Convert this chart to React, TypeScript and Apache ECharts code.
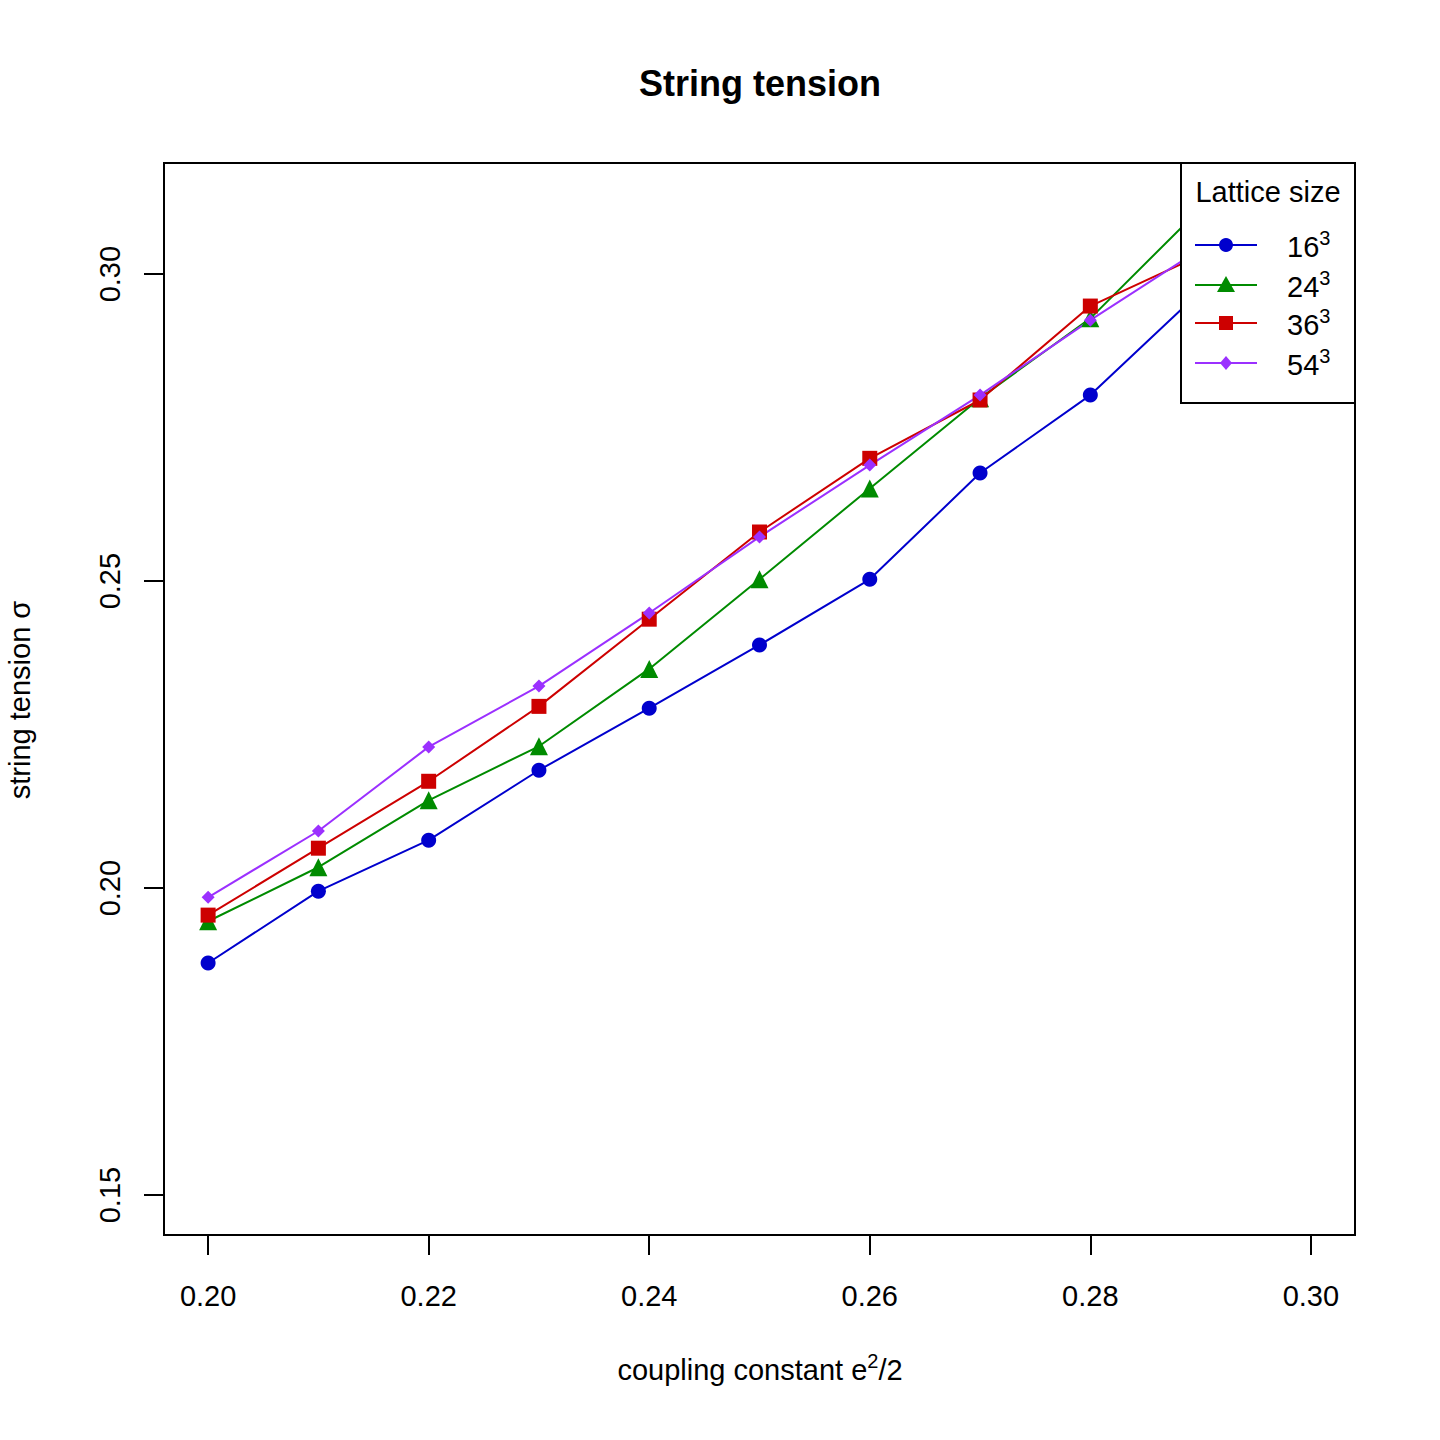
import React, { useEffect, useRef } from "react";
import * as echarts from "echarts";

const xValues = [0.2, 0.21, 0.22, 0.23, 0.24, 0.25, 0.26, 0.27, 0.28, 0.29];
const s16 = [0.1878, 0.1995, 0.2078, 0.2192, 0.2293, 0.2396, 0.2503, 0.2676, 0.2803, 0.2972];
const s24 = [0.1946, 0.2034, 0.2143, 0.2231, 0.2357, 0.2503, 0.2651, 0.2798, 0.2928, 0.3107];
const s36 = [0.1956, 0.2065, 0.2174, 0.2296, 0.2438, 0.258, 0.27, 0.2795, 0.2948, 0.3031];
const s54 = [0.1985, 0.2093, 0.223, 0.2329, 0.2448, 0.2572, 0.2689, 0.2803, 0.2925, 0.3041];
const xTicks = [0.2, 0.22, 0.24, 0.26, 0.28, 0.3];
const yTicks = [0.15, 0.2, 0.25, 0.3];
const names = ["16", "24", "36", "54"];
const colors = ["#0000CD", "#008B00", "#CD0000", "#9B30FF"];
const symbols = ["circle", "triangle", "rect", "diamond"];
const sizes = [15, 18, 15, 13];

const FONT = "Liberation Sans, Arial, sans-serif";

export default function App() {
  const ref = useRef<HTMLDivElement>(null);
  useEffect(() => {
    const chart = echarts.init(ref.current!, null, { renderer: "svg" });
    const all = [s16, s24, s36, s54];
    const series = all.map((s, i) => ({
      type: "line",
      name: names[i],
      data: s.map((v, j) => [xValues[j], v]),
      symbol: symbols[i],
      symbolSize: sizes[i],
      lineStyle: { color: colors[i], width: 2 },
      itemStyle: { color: colors[i] },
      clip: true,
    }));
    const legendItems: any[] = [];
    const ly = [245, 285, 323, 363];
    names.forEach((n, i) => {
      legendItems.push({ type: "line", shape: { x1: 1195, y1: ly[i], x2: 1257, y2: ly[i] }, style: { stroke: colors[i], lineWidth: 2 }, z: 101 });
      const c = colors[i];
      let sym: any;
      if (i === 0) sym = { type: "circle", shape: { cx: 1226, cy: ly[i], r: 7 }, style: { fill: c } };
      else if (i === 1) sym = { type: "polygon", shape: { points: [[1226, ly[i] - 9], [1235, ly[i] + 7], [1217, ly[i] + 7]] }, style: { fill: c } };
      else if (i === 2) sym = { type: "rect", shape: { x: 1219, y: ly[i] - 7, width: 14, height: 14 }, style: { fill: c } };
      else sym = { type: "polygon", shape: { points: [[1226, ly[i] - 7], [1232, ly[i]], [1226, ly[i] + 7], [1220, ly[i]]] }, style: { fill: c } };
      sym.z = 102;
      legendItems.push(sym);
      legendItems.push({
        type: "text", x: 1287, y: ly[i] + 2, z: 102,
        style: {
          text: `{b|${n}}{s|3}`, verticalAlign: "middle",
          rich: { b: { fontSize: 29, fontFamily: FONT, fill: "#000" }, s: { fontSize: 20, fontFamily: FONT, fill: "#000", verticalAlign: "top", padding: [0, 0, 18, 0] } },
        },
      });
    });
    chart.setOption({
      animation: false,
      backgroundColor: "#fff",
      grid: { left: 164, top: 163, right: 85, bottom: 205, show: true, borderColor: "#000", borderWidth: 2, backgroundColor: "transparent" },
      xAxis: {
        type: "value", min: 0.196, max: 0.304,
        axisLine: { show: false },
        axisTick: { show: true, length: 20, lineStyle: { color: "#000", width: 2 }, customValues: xTicks },
        axisLabel: { customValues: xTicks, formatter: (v: number) => v.toFixed(2), fontSize: 29, color: "#000", fontFamily: FONT, margin: 46 },
        splitLine: { show: false },
      },
      yAxis: {
        type: "value", min: 0.1435, max: 0.3181,
        axisLine: { show: false },
        axisTick: { show: true, length: 20, lineStyle: { color: "#000", width: 2 }, customValues: yTicks },
        axisLabel: { customValues: yTicks, formatter: (v: number) => v.toFixed(2), fontSize: 29, color: "#000", fontFamily: FONT, rotate: 90, margin: 40 },
        splitLine: { show: false },
      },
      series,
      graphic: [
        { type: "text", x: 760, y: 83, style: { text: "String tension", fontSize: 36, fontWeight: "bold", fontFamily: FONT, fill: "#000", align: "center", verticalAlign: "middle" } },
        {
          type: "text", x: 760, y: 1370,
          style: {
            text: "{a|coupling constant e}{s|2}{a|/2}", align: "center", verticalAlign: "middle",
            rich: { a: { fontSize: 29, fontFamily: FONT, fill: "#000" }, s: { fontSize: 20, fontFamily: FONT, fill: "#000", padding: [0, 0, 18, 0] } },
          },
        },
        { type: "text", x: 20, y: 700, rotation: Math.PI / 2, style: { text: "string tension σ", fontSize: 29, fontFamily: FONT, fill: "#000", align: "center", verticalAlign: "middle" } },
        { type: "rect", shape: { x: 1181, y: 163, width: 174, height: 240 }, style: { fill: "#fff", stroke: "#000", lineWidth: 2 }, z: 100 },
        { type: "text", x: 1268, y: 192, z: 101, style: { text: "Lattice size", fontSize: 29, fontFamily: FONT, fill: "#000", align: "center", verticalAlign: "middle" } },
        ...legendItems,
      ],
    });
    return () => chart.dispose();
  }, []);
  return <div ref={ref} style={{ position: "absolute", left: 0, top: 0, width: 1440, height: 1440 }} />;
}
